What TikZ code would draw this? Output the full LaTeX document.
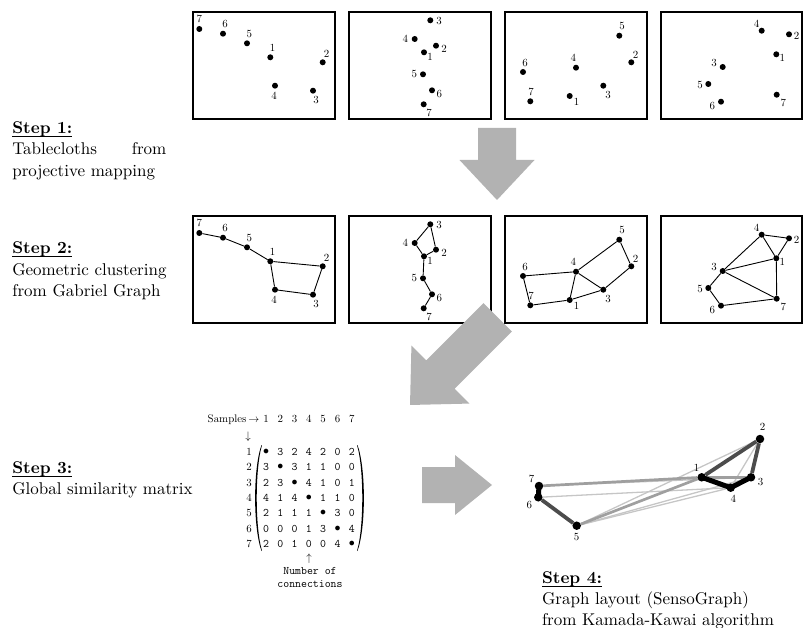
\documentclass[tikz,border=0pt]{standalone}
\usetikzlibrary{backgrounds}
\newcommand{\bigarrow}[7]{%
  \begin{scope}[shift={(#1,#2)},rotate=#3]
    \fill[arrowfill] (0,-#7) -- ({#4-#5},-#7) -- ({#4-#5},-#6) -- (#4,0) -- ({#4-#5},#6) -- ({#4-#5},#7) -- (0,#7) -- cycle;
  \end{scope}}
\newcommand{\pts}[2]{%
  \foreach \n/\px/\py/\lx/\ly in {#2} {%
    \node[dot] (#1\n) at (\px,\py) {};
    \node[lab] (#1l\n) at (\lx,\ly) {\n};}}
\newcommand{\edges}[2]{%
  \foreach \u/\v in {#2} {\draw[edge] (#1\u) -- (#1\v);}}
\newcommand{\myul}[1]{\setbox0\hbox{#1}\rlap{\rule[-2.2pt]{\wd0}{0.5pt}}\box0}
\begin{document}
\begin{tikzpicture}[x=1pt,y=-1pt,
  dot/.style={circle,fill=black,inner sep=0pt,minimum size=6pt},
  bigdot/.style={circle,fill=black,inner sep=0pt,minimum size=8.5pt},
  lab/.style={inner sep=0pt,font=\fontsize{10.9}{12}\selectfont},
  frame/.style={draw=black,line width=1.2pt},
  edge/.style={line width=0.9pt},
  steptxt/.style={inner sep=0pt,anchor=base west,font=\fontsize{10}{12}\selectfont,scale=1.7,transform shape},
  arrowfill/.style={fill=gray!60},
  mat/.style={inner sep=0pt,font=\fontsize{11.5}{13}\ttfamily\selectfont},
  w1/.style={line width=1.3pt,draw=gray!45},
  w2/.style={line width=2.7pt,draw=gray!75!black!60},
  w3/.style={line width=3.8pt,draw=black!70},
  w4/.style={line width=5pt,draw=black,line cap=round,line join=round}]
\useasboundingbox (0,0) rectangle (803,628);

% ---------- frames ----------
\foreach \xa/\xb in {193/335,349/491,505/647,661/802} {
  \draw[frame] (\xa,12) rectangle (\xb,119);
  \draw[frame] (\xa,216) rectangle (\xb,323);
}

% ---------- row 1 ----------
\pts{a}{7/199.3/29/199.3/19, 6/223/33.7/225/24.3, 5/247/43.3/249.3/34, 1/270.3/57.3/272.7/48, 2/322.7/62.3/326.7/54, 4/275/85.7/274/95.7, 3/313/90.7/316/99.7}
\pts{b}{3/430.3/20.3/439/20.7, 4/414.7/39/405.3/39, 2/436/45.7/444/49, 1/424/52.3/430/56.7, 5/423/74.3/414.3/74.3, 6/432/90.3/439.3/94, 7/423.7/104.3/429/113.3}
\pts{c}{5/619.3/35.7/622/25.7, 2/631.3/62.3/635.7/54.7, 4/576/67.7/573.3/57.7, 6/523/72/525/62.7, 3/603.3/85.7/608/95, 1/569.7/96/576.7/102.3, 7/530.3/101.3/531/91.7}
\pts{d}{4/761.7/30.7/756.7/24.3, 2/789/34.3/796.7/36, 1/776.3/54.3/782.3/58.3, 3/722.7/67/714/63.3, 5/708.3/84/700/85, 7/776.7/94.7/783.3/103.3, 6/721/101.7/712.3/106.3}

% ---------- row 2 ----------
\begin{scope}[shift={(0,204)}]
\pts{e}{7/199.3/29/199.3/19, 6/223/33.7/225/24.3, 5/247/43.3/249.3/34, 1/270.3/57.3/272.7/48, 2/322.7/62.3/326.7/54, 4/275/85.7/274/95.7, 3/313/90.7/316/99.7}
\pts{f}{3/430.3/20.3/439/20.7, 4/414.7/39/405.3/39, 2/436/45.7/444/49, 1/424/52.3/430/56.7, 5/423/74.3/414.3/74.3, 6/432/90.3/439.3/94, 7/423.7/104.3/429/113.3}
\pts{g}{5/619.3/35.7/622/25.7, 2/631.3/62.3/635.7/54.7, 4/576/67.7/573.3/57.7, 6/523/72/525/62.7, 3/603.3/85.7/608/95, 1/569.7/96/576.7/102.3, 7/530.3/101.3/531/91.7}
\pts{h}{4/761.7/30.7/756.7/24.3, 2/789/34.3/796.7/36, 1/776.3/54.3/782.3/58.3, 3/722.7/67/714/63.3, 5/708.3/84/700/85, 7/776.7/94.7/783.3/103.3, 6/721/101.7/712.3/106.3}
\end{scope}
\edges{e}{7/6, 6/5, 5/1, 1/2, 2/3, 3/4, 4/1}
\edges{f}{3/4, 3/2, 4/1, 2/1, 1/5, 5/6, 6/7}
\edges{g}{6/4, 6/7, 7/1, 1/4, 1/3, 4/3, 4/5, 5/2, 2/3}
\edges{h}{4/2, 4/1, 2/1, 4/3, 3/1, 3/7, 1/7, 3/5, 5/6, 6/7}

% ---------- big arrows ----------
\bigarrow{497}{128}{-90}{72}{40}{37.5}{19}
\bigarrow{497.7}{317.3}{-135}{124}{43}{41}{20}
\bigarrow{422}{485}{0}{70}{37}{30}{18}

% ---------- step texts ----------
\node[steptxt] (s1a) at (12,133.5) {\myul{\textbf{Step 1:}}};
\node[steptxt] (s1b) at (12,155) {\makebox[90.6pt][s]{Tablecloths from}};
\node[steptxt] (s1c) at (12,176.5) {projective mapping};
\node[steptxt] (s2a) at (12,253.3) {\myul{\textbf{Step 2:}}};
\node[steptxt] (s2b) at (12,275.3) {Geometric clustering};
\node[steptxt] (s2c) at (12,297) {from Gabriel Graph};
\node[steptxt] (s3a) at (12,473) {\myul{\textbf{Step 3:}}};
\node[steptxt] (s3b) at (12,494.5) {Global similarity matrix};
\node[steptxt] (s4a) at (541.7,583.5) {\myul{\textbf{Step 4:}}};
\node[steptxt] (s4b) at (541.7,604.5) {Graph layout (SensoGraph)};
\node[steptxt] (s4c) at (541.7,625) {from Kamada-Kawai algorithm};

% ---------- matrix ----------
\node[lab,anchor=base east] (samples) at (259.5,422.7) {Samples$\,\rightarrow$};
\node[lab] (darrow) at (248,437) {$\downarrow$};
\foreach \j in {1,...,7} {
  \node[lab] (c\j) at ({266+14.3*(\j-1)},419) {\j};
  \node[lab] (r\j) at (249,{451.7+15.4*(\j-1)}) {\j};
}
\foreach \row [count=\i] in {{$\bullet$,3,2,4,2,0,2},{3,$\bullet$,3,1,1,0,0},{2,3,$\bullet$,4,1,0,1},{4,1,4,$\bullet$,1,1,0},{2,1,1,1,$\bullet$,3,0},{0,0,0,1,3,$\bullet$,4},{2,0,1,0,0,4,$\bullet$}} {
  \foreach \v [count=\j] in \row {
    \node[mat] (m\i\j) at ({266+14.3*(\j-1)},{451.7+15.4*(\i-1)}) {\v};
  }
}
% parentheses drawn as thin crescents
\fill[black] (261.5,445) .. controls (253,468) and (253,528) .. (261.5,551)
  -- (261.9,550.5) .. controls (255,527) and (255,469) .. (261.9,445.5) -- cycle;
\fill[black] (357.5,445) .. controls (366,468) and (366,528) .. (357.5,551)
  -- (357.1,550.5) .. controls (364,527) and (364,469) .. (357.1,445.5) -- cycle;
\node[lab] (uarrow) at (309,558.5) {$\uparrow$};
\node[mat,anchor=base] (nb1) at (310,574) {Number of};
\node[mat,anchor=base] (nb2) at (310,587) {connections};

% ---------- step 4 graph ----------
\node[bigdot] (k7) at (539,486) {};
\node[bigdot] (k6) at (538.3,497.3) {};
\node[bigdot] (k5) at (576.7,525.7) {};
\node[bigdot] (k1) at (701.7,477.3) {};
\node[bigdot] (k4) at (730.7,487.7) {};
\node[bigdot] (k3) at (751,477.3) {};
\node[bigdot] (k2) at (760,439) {};
\begin{scope}[on background layer]
  \foreach \u/\v in {2/4, 2/5, 3/5, 3/7, 4/5, 4/6} {\draw[w1] (k\u) -- (k\v);}
  \foreach \u/\v in {1/3, 1/5, 1/7} {\draw[w2] (k\u) -- (k\v);}
  \foreach \u/\v in {1/2, 2/3, 5/6} {\draw[w3] (k\u) -- (k\v);}
  \foreach \u/\v in {1/4, 3/4, 6/7} {\draw[w4] (k\u.center) -- (k\v.center);}
\end{scope}
\node[lab] (kl7) at (531.7,479) {7};
\node[lab] (kl6) at (529.3,505) {6};
\node[lab] (kl5) at (576.7,537.3) {5};
\node[lab] (kl1) at (696.7,467.7) {1};
\node[lab] (kl4) at (733.3,499) {4};
\node[lab] (kl3) at (760.7,482.3) {3};
\node[lab] (kl2) at (762.7,427.3) {2};
\end{tikzpicture}
\end{document}
